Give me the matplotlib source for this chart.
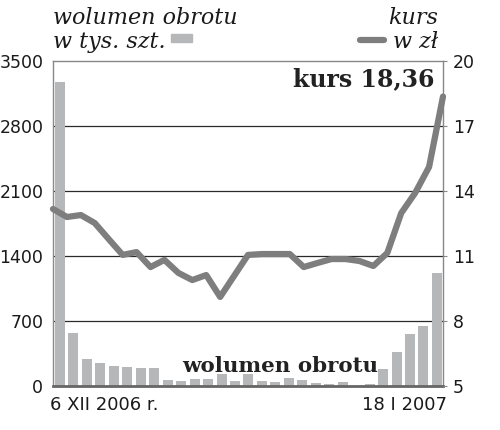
import matplotlib
matplotlib.use("Agg")
import matplotlib.pyplot as plt
from matplotlib.patches import Rectangle
from matplotlib.lines import Line2D

# ---- data ----
volume = [3270, 575, 290, 244, 215, 201, 190, 190, 61, 50, 79, 79, 126, 54,
          126, 52, 45, 86, 65, 32, 22, 40, 5, 25, 183, 370, 556, 646, 1213]
price = [13.17, 12.80, 12.89, 12.52, 11.78, 11.05, 11.18, 10.49, 10.82, 10.22,
         9.89, 10.12, 9.11, 10.08, 11.05, 11.09, 11.09, 11.09, 10.49, 10.68,
         10.86, 10.86, 10.77, 10.54, 11.14, 12.98, 13.91, 15.11, 18.36]
left_ticks = [0, 700, 1400, 2100, 2800, 3500]
right_ticks = [5, 8, 11, 14, 17, 20]
start_label = "6 XII 2006 r."
end_label = "18 I 2007"

BAR = "#b5b7b9"
LINE = "#7e7e7e"
GRID = "#2a2a2a"
TXT = "#1a1a1a"

fig = plt.figure(figsize=(5.0, 4.3), dpi=100)
rect = [53/500, 1-386/430, (443-53)/500, (386-61)/430]
ax = fig.add_axes(rect)
n = len(volume)
xs = list(range(n))
ax.set_xlim(-0.52, n - 1 + 0.45)
ax.set_ylim(0, 3500)
for v in left_ticks[1:-1]:
    ax.axhline(v, color=GRID, lw=0.9, zorder=1)
ax.bar(xs, volume, width=0.74, color=BAR, zorder=2)
ax.set_yticks(left_ticks)
ax.set_yticklabels([str(t) for t in left_ticks], fontsize=12.5, color=TXT,
                   family="DejaVu Sans")
ax.tick_params(axis="y", length=0, pad=7)
ax.set_xticks([])
for s in ["left", "top", "right"]:
    ax.spines[s].set_color("#888888")
    ax.spines[s].set_linewidth(1.0)
ax.spines["bottom"].set_color("#666666")
ax.spines["bottom"].set_linewidth(2.0)

ax2 = fig.add_axes(rect, frameon=False)
ax2.set_xlim(0, n - 1)
ax2.set_ylim(5, 20)
ax2.plot(xs, price, color=LINE, lw=4.5, solid_joinstyle="round",
         solid_capstyle="round", zorder=3, clip_on=False)
ax2.yaxis.tick_right()
ax2.set_yticks(right_ticks)
ax2.set_yticklabels([str(t) for t in right_ticks], fontsize=12.5, color=TXT,
                    family="DejaVu Sans")
ax2.tick_params(axis="y", length=3, pad=4, color="#888888")
ax2.set_xticks([])

# bottom date labels
fig.text(50/500, 1-405/430, start_label, fontsize=13, color=TXT,
         ha="left", va="center", family="DejaVu Sans")
fig.text(447/500, 1-405/430, end_label, fontsize=13, color=TXT,
         ha="right", va="center", family="DejaVu Sans")

# header legend texts
hdr = dict(fontsize=16, style="italic", family="DejaVu Serif", color=TXT,
           va="center")
fig.text(53/500, 1-18/430, "wolumen obrotu", ha="left", **hdr)
fig.text(53/500, 1-42/430, "w tys. szt.", ha="left", **hdr)
fig.text(438/500, 1-18/430, "kurs", ha="right", **hdr)
fig.text(438/500, 1-42/430, "w zł", ha="right", **hdr)
fig.patches.append(Rectangle((171/500, 1-42/430), 21/500, 8/430,
                             transform=fig.transFigure, color=BAR))
fig.lines.append(Line2D([360/500, 384/500], [1-40/430, 1-40/430],
                        transform=fig.transFigure, color=LINE, lw=4.5,
                        solid_capstyle="round"))

# in-chart labels
ax.text(0.978, 0.945, "kurs 18,36", transform=ax.transAxes, fontsize=17,
        fontweight="bold", family="DejaVu Serif", color="#222222",
        ha="right", va="center", zorder=5)
ax.text(0.833, 0.06, "wolumen obrotu", transform=ax.transAxes, fontsize=15.4,
        fontweight="bold", family="DejaVu Serif", color="#222222",
        ha="right", va="center", zorder=5)

fig.savefig("out.png", dpi=100)
